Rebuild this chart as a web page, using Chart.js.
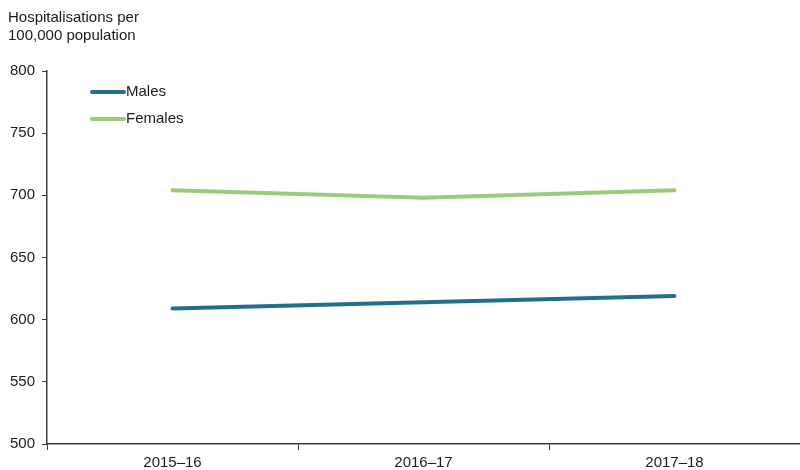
<!DOCTYPE html>
<html>
<head>
<meta charset="utf-8">
<script src="https://cdn.jsdelivr.net/npm/chart.js@4"></script>
<style>
  html, body { margin: 0; padding: 0; background: #fff; }
  #wrap { width: 800px; height: 470px; position: relative; }
</style>
</head>
<body>
<div id="wrap"><canvas id="myChart"></canvas></div>
<script>
'use strict';

const years = ['2015\u201316', '2016\u201317', '2017\u201318'];
const males = [609, 614, 619];
const females = [704, 698, 704];
const yTicks = [500, 550, 600, 650, 700, 750, 800];
const yTitle = ['Hospitalisations per', '100,000 population'];

const FONT = 'Arial, "Liberation Sans", sans-serif';
const axisColour = '#3a3a3a';

// y title and the legend sit inside the picture, so draw them by hand
const extras = {
  id: 'extras',
  afterDraw(chart) {
    const ctx = chart.ctx;
    const area = chart.chartArea;
    ctx.save();
    ctx.fillStyle = '#1a1a1a';
    ctx.font = '15px ' + FONT;
    ctx.textBaseline = 'middle';
    ctx.textAlign = 'left';
    ctx.fillText(yTitle[0], 8, 18);
    ctx.fillText(yTitle[1], 8, 36);

    const items = chart.data.datasets;
    for (let i = 0; i < items.length; i++) {
      const y = area.top + 21 + i * 27;
      ctx.strokeStyle = items[i].borderColor;
      ctx.lineWidth = 4;
      ctx.lineCap = 'round';
      ctx.beginPath();
      ctx.moveTo(area.left + 45, y);
      ctx.lineTo(area.left + 77, y);
      ctx.stroke();
      ctx.fillStyle = '#1a1a1a';
      ctx.fillText(items[i].label, area.left + 79, y);
    }
    ctx.restore();
  }
};

const ctx = document.getElementById('myChart').getContext('2d');
const chart = new Chart(ctx, {
  type: 'line',
  data: {
    labels: years,
    datasets: [
      {
        label: 'Males',
        data: males,
        borderColor: '#236f8b',
        borderWidth: 4,
        pointRadius: 0,
        borderCapStyle: 'round',
        tension: 0
      },
      {
        label: 'Females',
        data: females,
        borderColor: '#9cca7c',
        borderWidth: 4,
        pointRadius: 0,
        borderCapStyle: 'round',
        tension: 0
      }
    ]
  },
  options: {
    responsive: true,
    maintainAspectRatio: false,
    animation: false,
    layout: { padding: { top: 71, left: 0, right: 0, bottom: 0 } },
    plugins: {
      legend: { display: false },
      tooltip: { enabled: false }
    },
    scales: {
      x: {
        offset: true,
        grid: {
          offset: true,
          drawOnChartArea: false,
          drawTicks: true,
          tickLength: 6,
          color: axisColour
        },
        border: { color: axisColour, width: 1.5 },
        ticks: {
          color: '#1a1a1a',
          font: { family: FONT, size: 15 },
          padding: 4
        },
        afterFit(scale) { scale.height = 26; }
      },
      y: {
        min: 500,
        max: 800,
        afterBuildTicks(scale) {
          scale.ticks = yTicks.map(v => ({ value: v }));
        },
        grid: {
          drawOnChartArea: false,
          drawTicks: true,
          tickLength: 5,
          color: axisColour
        },
        border: { color: axisColour, width: 1.5 },
        ticks: {
          color: '#1a1a1a',
          font: { family: FONT, size: 15 },
          padding: 7
        },
        afterFit(scale) { scale.width = 47; }
      }
    }
  },
  plugins: [extras]
});
</script>
</body>
</html>
